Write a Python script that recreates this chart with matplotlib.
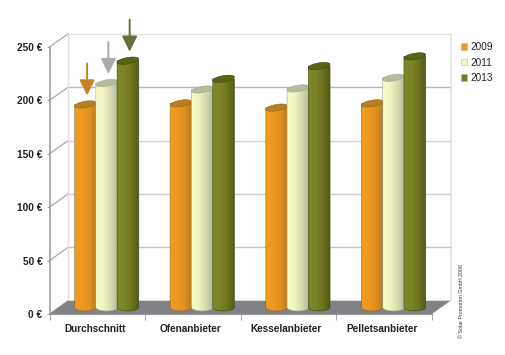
"""Pellet price chart with fake 3D cylinders"""
import numpy as np
import matplotlib
matplotlib.use('Agg')
import matplotlib.pyplot as plt
from matplotlib.colors import LinearSegmentedColormap
from matplotlib.patches import Patch, Polygon

plt.rcParams['font.family'] = ['Liberation Sans', 'DejaVu Sans']

categories = ['Durchschnitt', 'Ofenanbieter', 'Kesselanbieter', 'Pelletsanbieter']
years = ['2009', '2011', '2013']
values_2009 = [190, 191, 187, 191]
values_2011 = [210, 204, 205, 215]
values_2013 = [231, 214, 226, 235]
y_ticks = [0, 50, 100, 150, 200, 250]
y_labels = ['0 €', '50 €', '100 €', '150 €', '200 €', '250 €']

W, H = 506, 355
DEPTH_X = 18.7 / 95.6
DEPTH_Y = 13.3 / 1.068
BAR_W = 0.227

fig = plt.figure(figsize=(W / 100, H / 100), dpi=100)
ax = fig.add_axes([49.5 / W, 41 / H, 382.5 / W, 267 / H])
ax.set_xlim(0, 4)
ax.set_ylim(0, 250)
ax.patch.set_alpha(0)

# back wall, floor
grid_cols = ['#ffffff', '#c4c4c4', '#cfcfcf', '#d2d2d2', '#b8b8b8', '#e2e2e2']
for t, c in zip(y_ticks, grid_cols):
    if t > 0:
        ax.plot([DEPTH_X, 4 + DEPTH_X], [t + DEPTH_Y] * 2, color=c, lw=1, clip_on=False, zorder=1)
    ax.plot([0, DEPTH_X], [t, t + DEPTH_Y], color='#a8a8a8', lw=0.9, clip_on=False, zorder=1)
ax.plot([DEPTH_X, DEPTH_X], [DEPTH_Y, 250 + DEPTH_Y], color='#dedede', lw=1, clip_on=False, zorder=1)
ax.plot([4 + DEPTH_X, 4 + DEPTH_X], [DEPTH_Y, 250 + DEPTH_Y], color='#e4e4e4', lw=1.2, clip_on=False, zorder=1)
ax.add_patch(Polygon([[0, 0], [4, 0], [4 + DEPTH_X, DEPTH_Y], [DEPTH_X, DEPTH_Y]],
                     color='#808285', lw=0, clip_on=False, zorder=2))

series = [values_2009, values_2011, values_2013]
gradients = [['#f09c22', '#ee9a20', '#e09020', '#b87c22'],
             ['#f6f8c8', '#f2f4c0', '#d8dcb0', '#b4bc9c'],
             ['#7f8828', '#7c8526', '#6c7420', '#535b18']]
top_cols = ['#b8801f', '#b5bc9c', '#5a6216']
edge_cols = ['#8a6420', '#a4aa8c', '#3f4510']
arrow_cols = ['#c87f2a', '#a8acb0', '#666f3a']
legend_cols = ['#f09a20', '#f4f6c8', '#6e7a20']

t = np.linspace(0, 2 * np.pi, 60)
for g in range(len(categories)):
    for s, vals in enumerate(series):
        xc = g + 0.5 + DEPTH_X / 2 + (s - 1) * BAR_W * 0.98
        base = DEPTH_Y / 2
        top = vals[g] + base
        rx = BAR_W / 2
        # body: straight sides + rounded foot
        arc = np.linspace(np.pi, 2 * np.pi, 30)
        bx = np.r_[xc - rx, xc + rx * np.cos(arc), xc + rx]
        by = np.r_[top, base + 3.4 * np.sin(arc), top]
        body = Polygon(np.c_[bx, by], closed=True, facecolor='none',
                       edgecolor=edge_cols[s], lw=0.4, zorder=3 + s * 2, clip_on=False)
        ax.add_patch(body)
        cmap = LinearSegmentedColormap.from_list('c', gradients[s])
        im = ax.imshow(np.linspace(0, 1, 64).reshape(1, -1), extent=[xc - rx, xc + rx, base - 5, top],
                       aspect='auto', cmap=cmap, zorder=3 + s * 2 - 0.5)
        im.set_clip_path(body)
        # top ellipse, tilted up to the right
        ex = xc + rx * np.cos(t)
        ey = top + 3 * np.sin(t) + 1.6 * np.cos(t)
        ax.add_patch(Polygon(np.c_[ex, ey], closed=True, facecolor=top_cols[s],
                             edgecolor=edge_cols[s], lw=0.4, zorder=4 + s * 2, clip_on=False))
ax.set_xlim(0, 4)
ax.set_ylim(0, 250)

# arrows over first group
for s, vals in enumerate(series):
    xa = 0.5 + DEPTH_X / 2 + (s - 1) * BAR_W * 0.98 + 0.018
    tip = vals[0] + DEPTH_Y / 2 + 8.4
    ax.annotate('', xy=(xa, tip), xytext=(xa, tip + 30), annotation_clip=False, zorder=12,
                arrowprops=dict(arrowstyle='-|>,head_width=0.27,head_length=0.55', color=arrow_cols[s],
                                lw=1.4, shrinkA=0, shrinkB=0, mutation_scale=17))

for side in ['top', 'right']:
    ax.spines[side].set_visible(False)
ax.spines['left'].set_color('#a0a0a0')
ax.spines['left'].set_linewidth(1.2)
ax.spines['bottom'].set_color('#9a9a9a')
ax.spines['bottom'].set_linewidth(0.8)

ax.set_yticks(y_ticks)
ax.set_yticklabels(y_labels, fontsize=7.3, fontweight='bold', color='#222222')
ax.set_xticks(range(5))
ax.set_xticklabels([])
ax.set_xticks([i + 0.475 for i in range(4)], minor=True)
ax.set_xticklabels(categories, minor=True, fontsize=7.2, fontweight='bold', color='#222222')
ax.tick_params(axis='y', length=2, width=0.8, color='#a0a0a0', pad=3)
ax.tick_params(axis='x', which='major', length=4, width=0.8, color='#a8a8a8')
ax.tick_params(axis='x', which='minor', length=0, pad=7)

handles = [Patch(facecolor=c, edgecolor='#b8b8a8', lw=0.4) for c in legend_cols]
fig.legend(handles, years, loc='upper left', bbox_to_anchor=(459 / W, 1 - 40 / H), frameon=False,
           fontsize=7.2, handlelength=0.65, handleheight=0.65, handletextpad=0.25,
           labelspacing=0.55, borderpad=0.2, borderaxespad=0, labelcolor='#222222')

fig.text(461.5 / W, 1 - 300.5 / H, '© Solar Promotion GmbH 2008', rotation=90, fontsize=3.8,
         ha='center', va='center', color='#333333')

fig.savefig('out.png', dpi=100)
